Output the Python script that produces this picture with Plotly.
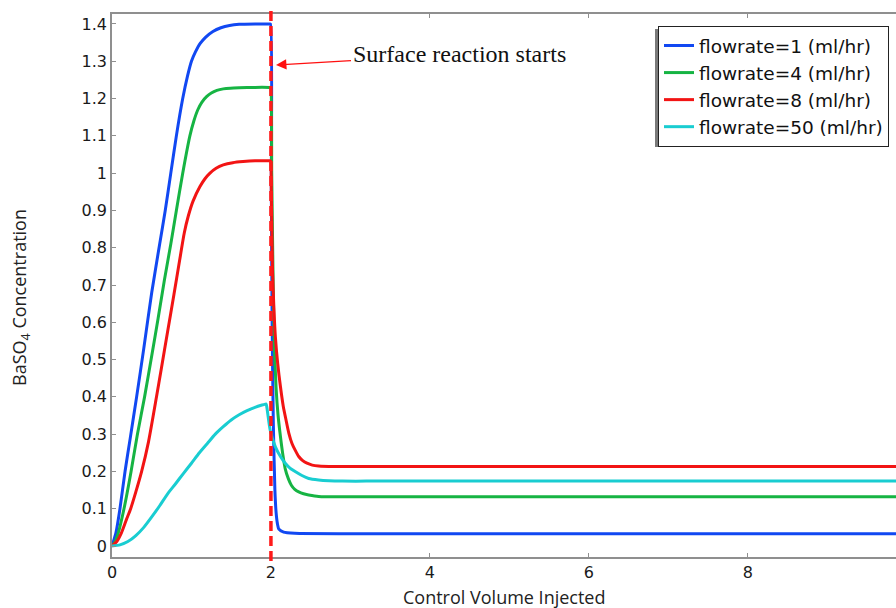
import plotly.graph_objects as go

# ---------------- data ----------------
reaction_start = 2.0

x_f1 = [0, 0.05, 0.1, 0.164, 0.23, 0.31, 0.4, 0.5, 0.6, 0.67, 0.74, 0.81, 0.89, 0.95, 1.0, 1.05, 1.11, 1.18, 1.27, 1.37, 1.48, 1.6, 1.8, 1.985, 1.995,
        2.005, 2.015, 2.03, 2.05, 2.065, 2.08, 2.1, 2.16, 2.3, 3, 5, 7, 9, 10]
y_f1 = [0, 0.036, 0.1, 0.2, 0.29, 0.4, 0.53, 0.68, 0.81, 0.9, 1.0, 1.1, 1.2, 1.26, 1.3, 1.325, 1.348, 1.365, 1.38, 1.39, 1.396, 1.399, 1.4, 1.4, 1.4,
        0.95, 0.6, 0.33, 0.15, 0.09, 0.062, 0.045, 0.037, 0.034, 0.033, 0.033, 0.033, 0.033, 0.033]

x_f4 = [0, 0.04, 0.08, 0.151, 0.24, 0.32, 0.41, 0.5, 0.58, 0.66, 0.74, 0.81, 0.89, 0.98, 1.03, 1.08, 1.13, 1.19, 1.25, 1.32, 1.4, 1.49, 1.6, 1.8, 1.985, 1.995,
        2.01, 2.025, 2.04, 2.064, 2.09, 2.12, 2.15, 2.18, 2.22, 2.257, 2.3, 2.35, 2.41, 2.475, 2.6, 3, 5, 7, 9, 10]
y_f4 = [0, 0.012, 0.036, 0.1, 0.2, 0.3, 0.4, 0.51, 0.61, 0.714, 0.81, 0.9, 1.0, 1.1, 1.14, 1.17, 1.19, 1.205, 1.215, 1.222, 1.226, 1.228, 1.229, 1.23, 1.23, 1.23,
        1.0, 0.75, 0.56, 0.427, 0.35, 0.293, 0.245, 0.207, 0.18, 0.163, 0.152, 0.145, 0.14, 0.137, 0.133, 0.132, 0.132, 0.132, 0.132, 0.132]

x_f8 = [0, 0.06, 0.12, 0.18, 0.235, 0.3, 0.373, 0.46, 0.56, 0.62, 0.7, 0.78, 0.85, 0.91, 0.96, 1.02, 1.107, 1.17, 1.233, 1.31, 1.4, 1.52, 1.65, 1.8, 1.985, 1.995,
        2.005, 2.02, 2.037, 2.056, 2.085, 2.12, 2.155, 2.19, 2.225, 2.265, 2.31, 2.35, 2.4, 2.454, 2.52, 2.6, 2.8, 3, 5, 7, 9, 10]
y_f8 = [0, 0.012, 0.036, 0.07, 0.1, 0.145, 0.2, 0.28, 0.4, 0.475, 0.575, 0.675, 0.765, 0.84, 0.885, 0.925, 0.964, 0.985, 1.0, 1.013, 1.022, 1.028, 1.031, 1.033, 1.033, 1.033,
        0.95, 0.74, 0.64, 0.561, 0.49, 0.427, 0.375, 0.338, 0.303, 0.275, 0.255, 0.24, 0.229, 0.222, 0.217, 0.2145, 0.213, 0.213, 0.213, 0.213, 0.213, 0.213]

x_f50 = [0, 0.1, 0.2, 0.3, 0.4, 0.5, 0.6, 0.7, 0.8, 0.9, 1.0, 1.1, 1.2, 1.3, 1.4, 1.5, 1.6, 1.7, 1.8, 1.888, 1.93, 1.94,
         1.95, 1.99, 2.056, 2.12, 2.18, 2.24, 2.31, 2.39, 2.475, 2.6, 2.73, 2.9, 3.2, 5, 7, 9, 10]
y_f50 = [0, 0.003, 0.012, 0.028, 0.05, 0.078, 0.108, 0.14, 0.167, 0.195, 0.222, 0.25, 0.275, 0.3, 0.32, 0.338, 0.352, 0.363, 0.372, 0.378, 0.3805, 0.381,
         0.37, 0.311, 0.266, 0.24, 0.222, 0.209, 0.199, 0.189, 0.181, 0.177, 0.175, 0.174, 0.174, 0.174, 0.174, 0.174, 0.174]

series_names = ["flowrate=1 (ml/hr)", "flowrate=4 (ml/hr)", "flowrate=8 (ml/hr)", "flowrate=50 (ml/hr)"]
series_x = [x_f1, x_f4, x_f8, x_f50]
series_y = [y_f1, y_f4, y_f8, y_f50]
colors = ["#1148f2", "#16b443", "#f21414", "#19cdd1"]

y_ticks = [0, 0.1, 0.2, 0.3, 0.4, 0.5, 0.6, 0.7, 0.8, 0.9, 1.0, 1.1, 1.2, 1.3, 1.4]
x_ticks = [0, 2, 4, 6, 8]

# ---------------- figure ----------------
fig = go.Figure()
for i, (nm, xs, ys, c) in enumerate(zip(series_names, series_x, series_y, colors)):
    fig.add_trace(go.Scatter(x=xs, y=ys, mode="lines", name=nm, legendgroup=f"g{i}",
                             line=dict(color=c, width=3, shape="spline", smoothing=0.6)))

L, T, B = 112, 14, 51
W, H = 896, 608
pw, ph = W - L, H - T - B

def px_x(p):
    return (p - L) / pw

def px_y(p):
    return (H - B - p) / ph

axis_col = "#8f8f8f"
tick_font = dict(family="DejaVu Sans", size=16, color="#1a1a1a")

fig.update_layout(
    width=W, height=H,
    margin=dict(l=L, r=0, t=T, b=B),
    paper_bgcolor="white", plot_bgcolor="white",
    showlegend=True,
    legend=dict(x=px_x(658), y=px_y(26), xanchor="left", yanchor="top",
                bgcolor="white", bordercolor="#222222", borderwidth=1,
                font=dict(family="DejaVu Sans", size=18.5, color="#111111"),
                tracegroupgap=0),
    xaxis=dict(range=[0, 9.866], tickvals=x_ticks, ticktext=[str(v) for v in x_ticks],
               showgrid=False, zeroline=False, showline=True, linecolor=axis_col, linewidth=1.5,
               mirror="ticks", ticks="inside", ticklen=4, tickcolor=axis_col, tickwidth=1,
               tickfont=tick_font),
    yaxis=dict(range=[-0.0295, 1.4268], tickvals=y_ticks,
               ticktext=[("%g" % v) for v in y_ticks],
               showgrid=False, zeroline=False, showline=True, linecolor=axis_col, linewidth=1.5,
               ticks="inside", ticklen=4, tickcolor=axis_col, tickwidth=1,
               ticklabelstandoff=0,
               tickfont=tick_font),
)

# legend shadow
fig.add_shape(type="rect", xref="paper", yref="paper",
              x0=px_x(655), x1=px_x(889), y0=px_y(147), y1=px_y(29),
              fillcolor="#7a7a7a", line=dict(width=0), layer="above")

# dashed vertical line: reaction start
fig.add_shape(type="line", xref="x", yref="paper", x0=reaction_start, x1=reaction_start,
              y0=px_y(561), y1=px_y(9), line=dict(color="#ff1a1a", width=3.5, dash="10px,5px"),
              layer="above")

# annotation with arrow
fig.add_annotation(x=(276 - L) / 79.46, y=(546 - 65) / 372.9, xref="x", yref="y",
                   text="Surface reaction starts", showarrow=True,
                   ax=183, ay=-11, axref="pixel", ayref="pixel",
                   arrowhead=2, arrowsize=1.6, arrowwidth=1.3, arrowcolor="#ff1010",
                   font=dict(family="Liberation Serif", size=24, color="#111111"))

# axis titles
fig.add_annotation(x=px_x(504), y=px_y(597), xref="paper", yref="paper",
                   text="Control Volume Injected", showarrow=False,
                   font=dict(family="Open Sans", size=18, color="#222222"),
                   xanchor="center", yanchor="middle")
fig.add_annotation(x=px_x(20), y=px_y(298), xref="paper", yref="paper",
                   text="BaSO<sub>4</sub> Concentration", showarrow=False, textangle=-90,
                   font=dict(family="Open Sans", size=18, color="#222222"),
                   xanchor="center", yanchor="middle")

fig.write_html("out.html")
